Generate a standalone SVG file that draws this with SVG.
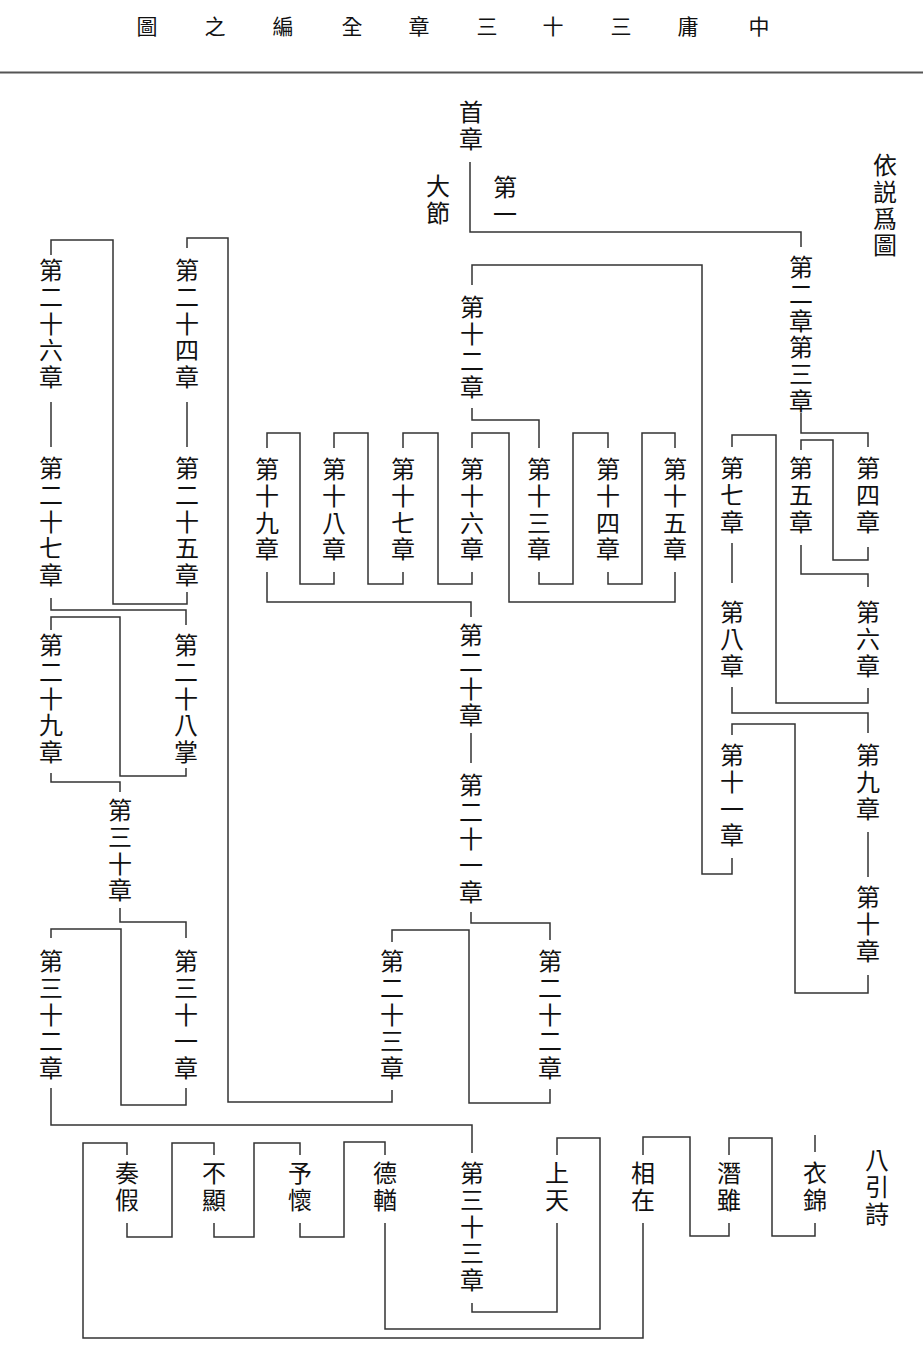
<svg xmlns="http://www.w3.org/2000/svg" width="923" height="1349" viewBox="0 0 923 1349">
<style>
text{font-family:"Noto Sans CJK TC","Noto Sans CJK JP",sans-serif;fill:#111}
.v{font-size:24px;writing-mode:vertical-rl;letter-spacing:2.7px}
.t{font-size:21px;text-anchor:middle;dominant-baseline:central}
.c path{fill:none;stroke:#333;stroke-width:1.5}
</style>
<rect width="923" height="1349" fill="#fff"/>
<g id="title">
<text class="t"><tspan x="147" y="25">圖</tspan><tspan x="215" y="25">之</tspan><tspan x="283" y="25">編</tspan><tspan x="352" y="25">全</tspan><tspan x="419" y="25">章</tspan><tspan x="487" y="25">三</tspan><tspan x="553" y="25">十</tspan><tspan x="621" y="25">三</tspan><tspan x="688" y="25">庸</tspan><tspan x="759" y="25">中</tspan></text>
<path d="M0 72.5H923" stroke="#555" stroke-width="2"/>
</g>
<g class="c" id="connectors">
<path d="M470 162V232H801V247"/>
<path d="M472 285V265H702V874H732V858"/>
<path d="M472 408V420H539V448"/>
<path d="M539 572V584H573V433H608V448"/>
<path d="M608 572V584H642V433H675V448"/>
<path d="M675 572V602H509V433H472V448"/>
<path d="M472 572V584H438V433H403V448"/>
<path d="M403 572V584H368V433H334V448"/>
<path d="M334 572V584H300V433H267V448"/>
<path d="M267 572V602H471V617"/>
<path d="M471 733V763"/>
<path d="M471 912V923H550V940"/>
<path d="M550 1089V1103H469V930H392V942"/>
<path d="M392 1090V1102H228V238H187V248"/>
<path d="M187 402V447"/>
<path d="M187 592V604H113V240H51V255"/>
<path d="M51 402V447"/>
<path d="M51 598V610H186V625"/>
<path d="M186 768V776H120V617H51V630"/>
<path d="M51 773V782H120V792"/>
<path d="M120 908V922H186V938"/>
<path d="M186 1088V1105H121V929H51V938"/>
<path d="M51 1088V1125H472V1153"/>
<path d="M472 1303V1312H557V1223"/>
<path d="M557 1155V1138H600V1329H385V1223"/>
<path d="M385 1155V1142H344V1237H300V1223"/>
<path d="M300 1155V1143H254V1237H214V1223"/>
<path d="M214 1155V1143H172V1237H127V1223"/>
<path d="M127 1155V1143H83V1338H643V1223"/>
<path d="M643 1155V1137H690V1236H729V1223"/>
<path d="M729 1155V1138H772V1236H815V1223"/>
<path d="M815 1135V1152"/>
<path d="M801 413V433H868V447"/>
<path d="M868 547V560H833V440H801V450"/>
<path d="M801 545V574H868V587"/>
<path d="M868 688V703H776V435H732V447"/>
<path d="M732 543V583"/>
<path d="M732 687V713H868V733"/>
<path d="M868 832V877"/>
<path d="M868 975V993H795V724H732V735"/>
</g>
<g id="n-shouzhang"><text class="v" x="471" y="100">首章</text></g>
<g id="n-dajie"><text class="v" x="438" y="174">大節</text></g>
<g id="n-diyi"><text class="v" x="505" y="175">第一</text></g>
<g id="n-yishuo"><text class="v" x="885" y="153">依説爲圖</text></g>
<g id="n-ch2-3"><text class="v" x="801" y="255">第二章第三章</text></g>
<g id="n-ch4"><text class="v" x="868" y="456">第四章</text></g>
<g id="n-ch5"><text class="v" x="801" y="456">第五章</text></g>
<g id="n-ch6"><text class="v" x="868" y="600">第六章</text></g>
<g id="n-ch7"><text class="v" x="732" y="456">第七章</text></g>
<g id="n-ch8"><text class="v" x="732" y="600">第八章</text></g>
<g id="n-ch9"><text class="v" x="868" y="743">第九章</text></g>
<g id="n-ch10"><text class="v" x="868" y="885">第十章</text></g>
<g id="n-ch11"><text class="v" x="732" y="743">第十一章</text></g>
<g id="n-ch12"><text class="v" x="472" y="295">第十二章</text></g>
<g id="n-ch19"><text class="v" x="267" y="457">第十九章</text></g>
<g id="n-ch18"><text class="v" x="334" y="457">第十八章</text></g>
<g id="n-ch17"><text class="v" x="403" y="457">第十七章</text></g>
<g id="n-ch16"><text class="v" x="472" y="457">第十六章</text></g>
<g id="n-ch13"><text class="v" x="539" y="457">第十三章</text></g>
<g id="n-ch14"><text class="v" x="608" y="457">第十四章</text></g>
<g id="n-ch15"><text class="v" x="675" y="457">第十五章</text></g>
<g id="n-ch20"><text class="v" x="471" y="623">第二十章</text></g>
<g id="n-ch21"><text class="v" x="471" y="773">第二十一章</text></g>
<g id="n-ch22"><text class="v" x="550" y="949">第二十二章</text></g>
<g id="n-ch23"><text class="v" x="392" y="949">第二十三章</text></g>
<g id="n-ch24"><text class="v" x="187" y="258">第二十四章</text></g>
<g id="n-ch25"><text class="v" x="187" y="456">第二十五章</text></g>
<g id="n-ch26"><text class="v" x="51" y="258">第二十六章</text></g>
<g id="n-ch27"><text class="v" x="51" y="456">第二十七章</text></g>
<g id="n-ch28"><text class="v" x="186" y="633">第二十八掌</text></g>
<g id="n-ch29"><text class="v" x="51" y="633">第二十九章</text></g>
<g id="n-ch30"><text class="v" x="120" y="798">第三十章</text></g>
<g id="n-ch31"><text class="v" x="186" y="949">第三十一章</text></g>
<g id="n-ch32"><text class="v" x="51" y="949">第三十二章</text></g>
<g id="n-ch33"><text class="v" x="472" y="1161">第三十三章</text></g>
<g id="n-zoujia"><text class="v" x="127" y="1161">奏假</text></g>
<g id="n-buxian"><text class="v" x="214" y="1161">不顯</text></g>
<g id="n-yuhuai"><text class="v" x="300" y="1161">予懷</text></g>
<g id="n-deyou"><text class="v" x="385" y="1161">德輶</text></g>
<g id="n-shangtian"><text class="v" x="557" y="1161">上天</text></g>
<g id="n-xiangzai"><text class="v" x="643" y="1161">相在</text></g>
<g id="n-qiansui"><text class="v" x="729" y="1161">潛雖</text></g>
<g id="n-yijin"><text class="v" x="815" y="1161">衣錦</text></g>
<g id="n-bayinshi"><text class="v" x="877" y="1148">八引詩</text></g>
</svg>
